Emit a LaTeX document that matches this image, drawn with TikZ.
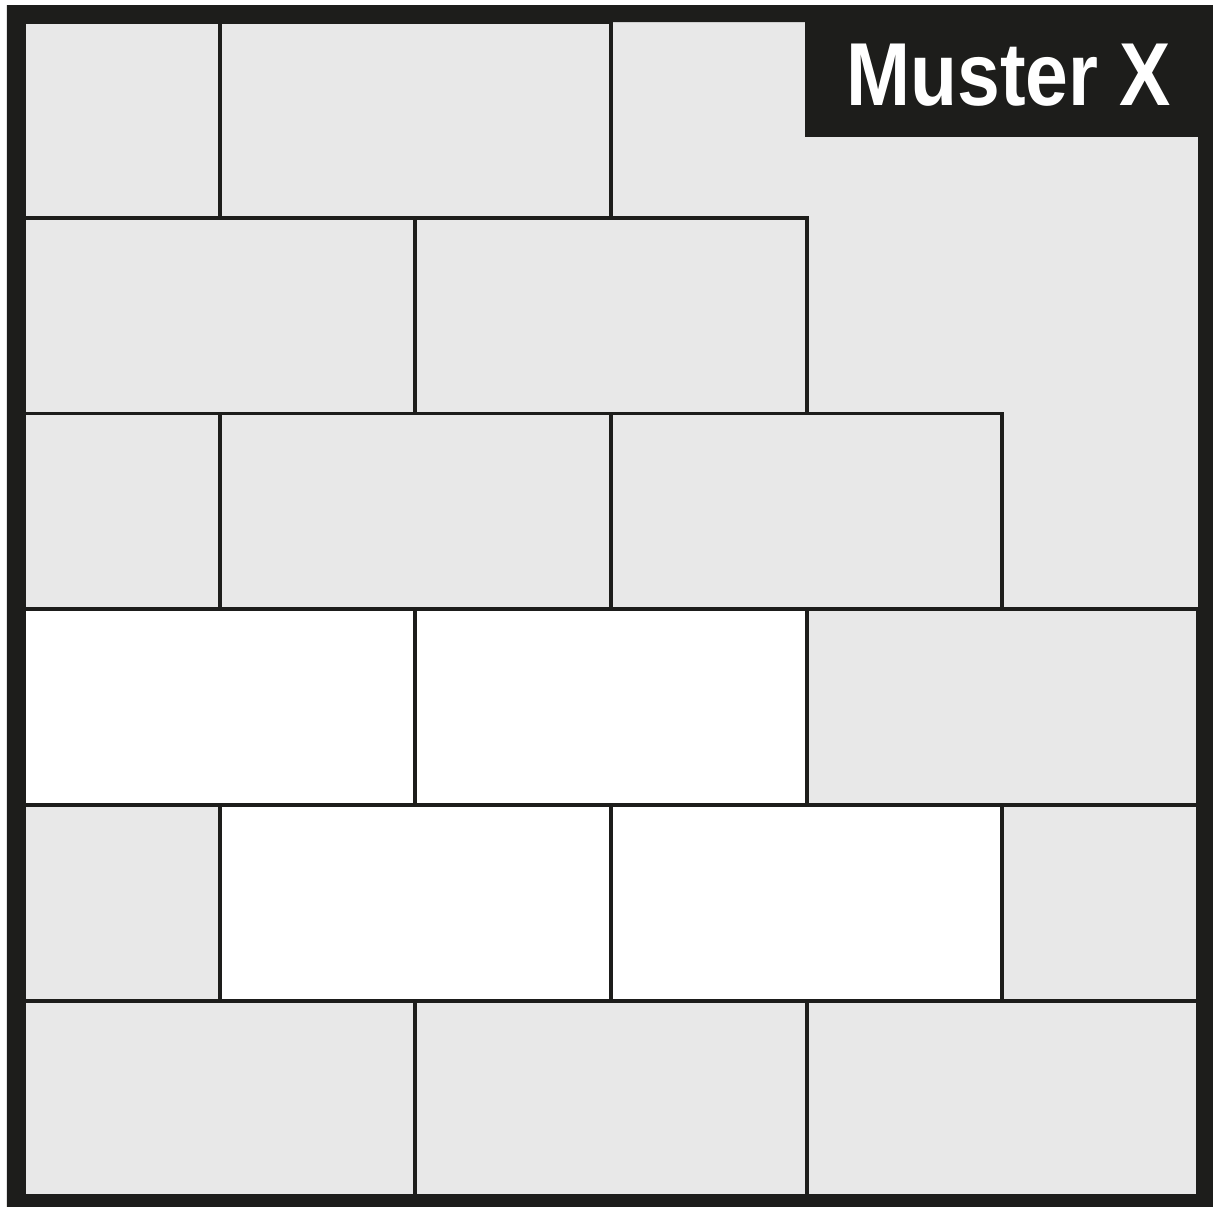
\documentclass[tikz,border=0pt]{standalone}
\usepackage{fontspec}
\setmainfont{Liberation Sans}
\newfontfamily\labelfont{Liberation Sans}[FakeStretch=0.86]
\definecolor{framecol}{HTML}{1D1D1B}
\definecolor{tilegray}{HTML}{E8E8E8}

\begin{document}
\begin{tikzpicture}[x=2cm, y=2cm,
  tile/.style={draw=framecol, line width=1.15pt, fill=tilegray},
  newtile/.style={tile, fill=white},
  labelbox/.style={fill=framecol}]

\useasboundingbox (-0.1226,-0.051) rectangle (6.076,6.113);
\fill[white] (-0.1226,-0.051) rectangle (6.076,6.113);
\fill[tilegray] (0,0) rectangle (6,6);

% tiles already laid (grey)
\foreach \a/\b/\r in {0/2/0, 2/4/0, 4/6/0, 0/1/1, 5/6/1, 4/6/2, 0/1/3, 1/3/3, 3/5/3, 0/2/4, 2/4/4, 0/1/5, 1/3/5}
  \draw[tile] (\a,\r) rectangle (\b,\r+1);

% highlighted tiles (white)
\foreach \a/\b/\r in {1/3/1, 3/5/1, 0/2/2, 2/4/2}
  \draw[newtile] (\a,\r) rectangle (\b,\r+1);

% outer frame
\fill[framecol, even odd rule] (-0.087,-0.087) rectangle (6.087,6.087) (0,0) rectangle (6,6);

% label
\fill[labelbox] (3.99,5.414) rectangle (6.01,6.01);
\node[anchor=base west, text=white, inner sep=0pt, font=\labelfont\bfseries\fontsize{26}{26}\selectfont] (label) at (4.2,5.572) {Muster X};

\end{tikzpicture}
\end{document}
